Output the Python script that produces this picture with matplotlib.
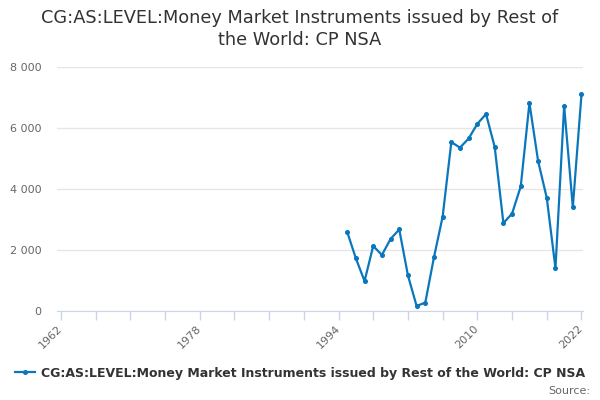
import matplotlib.pyplot as plt
from matplotlib.ticker import FuncFormatter

# data
years = list(range(1995, 2023))
values = [2590, 1725, 980, 2130, 1835, 2360, 2670, 1165, 165, 275,
          1760, 3090, 5530, 5350, 5650, 6130, 6450, 5370, 2880, 3190,
          4080, 6810, 4910, 3700, 1400, 6710, 3400, 7100]

title = 'CG:AS:LEVEL:Money Market Instruments issued by Rest of the World: CP NSA'
tick_years = list(range(1962, 2023, 4))
label_years = [1962, 1978, 1994, 2010, 2022]
y_ticks = [0, 2000, 4000, 6000, 8000]

line_color = '#0a77bd'
text_gray = '#666666'

fig = plt.figure(figsize=(6, 4), dpi=100)
ax = fig.add_axes([57 / 600, 1 - 311 / 400, (583 - 57) / 600, (311 - 66.7) / 400])

ax.plot(years, values, color=line_color, linewidth=1.6, marker='o', markersize=2.6,
        label=title)

# x scale: 1962 at px 60.8, 2022 at px 581.5
px_per_year = (581.5 - 60.8) / 60
ax.set_xlim(1962 - 3.8 / px_per_year, 2022 + 1.5 / px_per_year)
ax.set_ylim(0, 8000)

ax.set_yticks(y_ticks)
ax.yaxis.set_major_formatter(FuncFormatter(lambda v, p: f'{int(v):,}'.replace(',', ' ')))
ax.grid(axis='y', color='#e6e6e6', linewidth=1)
ax.set_axisbelow(True)

ax.set_xticks(tick_years)
ax.set_xticklabels([str(y) if y in label_years else '' for y in tick_years],
                   rotation=45, ha='right', va='center', rotation_mode='anchor')

for s in ['top', 'right', 'left']:
    ax.spines[s].set_visible(False)
ax.spines['bottom'].set_color('#ccd6eb')
ax.tick_params(axis='x', length=6.5, width=1, color='#ccd6eb', labelsize=8,
               labelcolor=text_gray, pad=5)
ax.tick_params(axis='y', length=0, labelsize=8, labelcolor=text_gray, pad=11)

fig.text(0.5, 1 - 29 / 400, 'CG:AS:LEVEL:Money Market Instruments issued by Rest of\nthe World: CP NSA',
         ha='center', va='center', fontsize=12.8, color='#333333', linespacing=1.25)

leg = fig.legend(loc='center', bbox_to_anchor=(0.5, 1 - 373 / 400), frameon=False,
                 prop={'size': 9, 'weight': 'bold'}, handlelength=1.6, handletextpad=0.5)
for t in leg.get_texts():
    t.set_color('#333333')

fig.text(590 / 600, 1 - 391 / 400, 'Source:', ha='right', va='center', fontsize=8,
         color=text_gray)

fig.savefig('out.png', dpi=100)
